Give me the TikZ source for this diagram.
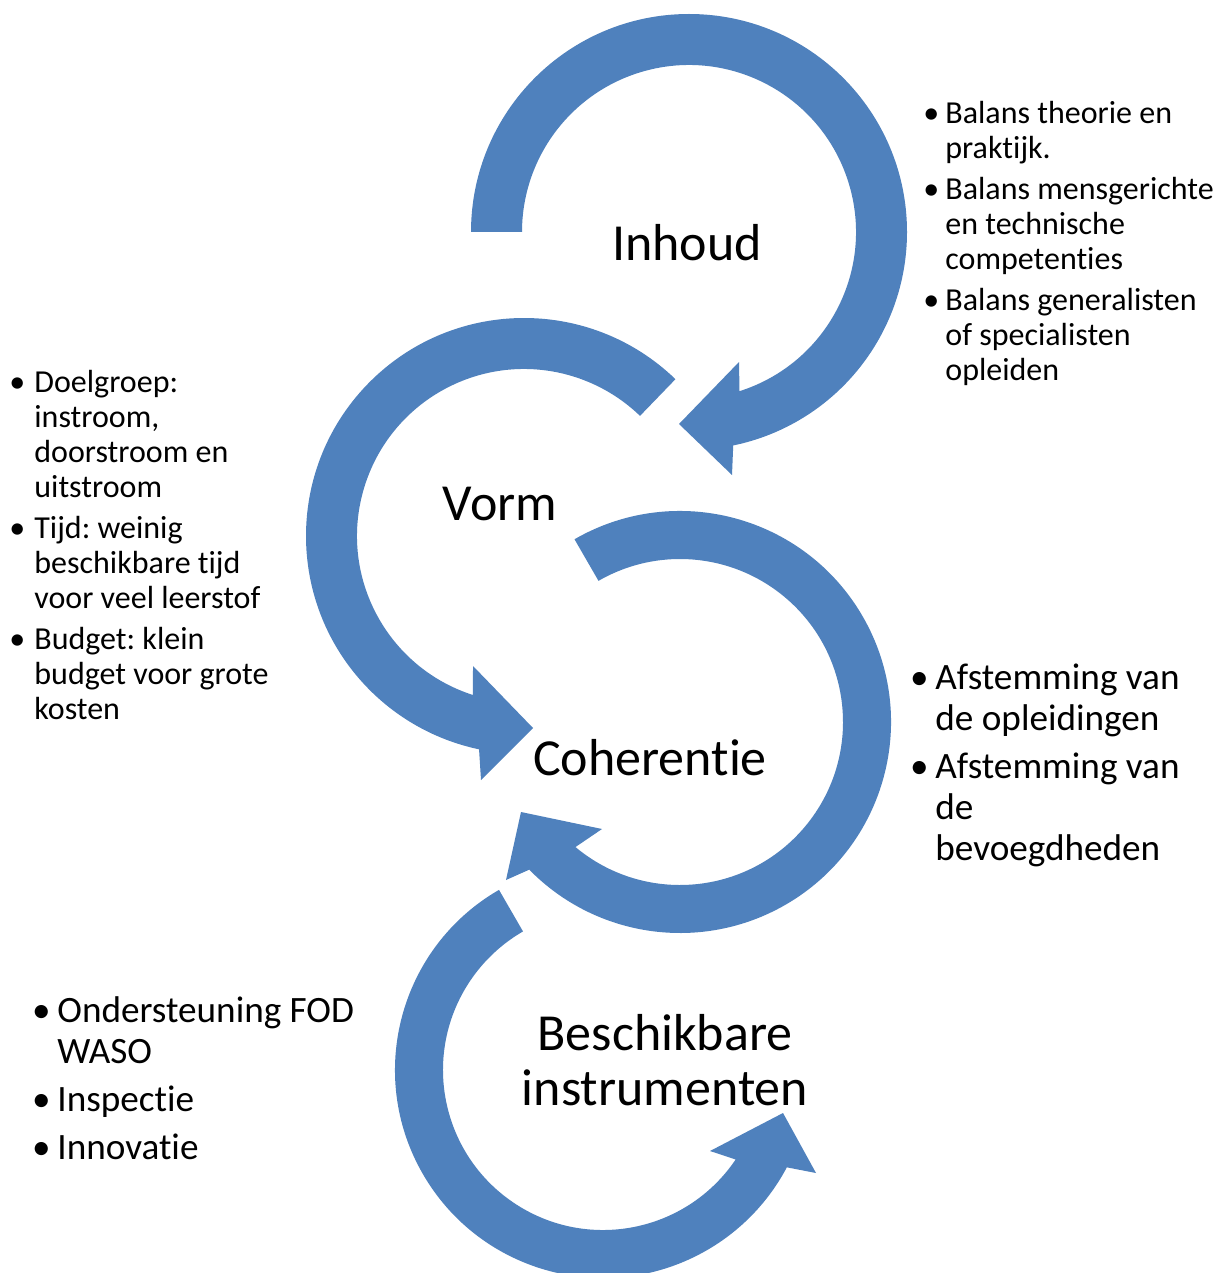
\documentclass[tikz,border=0pt]{standalone}
\usepackage{fontspec}
\setmainfont{Carlito}[Ligatures=NoCommon]
\usetikzlibrary{calc}
\definecolor{smartblue}{RGB}{79,129,189}
\newcommand{\opsom}[1]{\makebox[#1][l]{\makebox[0pt]{\textbullet}}}
\frenchspacing
\tikzset{
  pijl/.style={fill=smartblue},
  hoofdlabel/.style={font=\fontsize{26}{27.5}\selectfont, inner sep=0pt},
  kleinlijst/.style={font=\fontsize{16}{17.5}\selectfont, align=left, inner sep=0pt, anchor=north west},
  grootlijst/.style={font=\fontsize{18.6}{20.6}\selectfont, align=left, inner sep=0pt, anchor=north west},
}
\begin{document}
\begin{tikzpicture}[x=0.5pt, y=-0.5pt]
\fill[white] (0,0) rectangle (1224,1273);
\useasboundingbox (0,0) rectangle (1224,1273);
% middelpunten van de pijlen
\coordinate (cInhoud) at (689,232);
\coordinate (cVorm) at (524,536);
\coordinate (cCoherentie) at (680,722);
\coordinate (cInstrumenten) at (603,1070);

% --- pijl 1: Inhoud (met de klok mee) ---
\fill[pijl] ($(cInhoud)+(180:218)$) arc[start angle=180, end angle=438.3, radius=218]
  -- (732,475) -- (679,424) -- (739,362)
  -- ($(cInhoud)+(72.4:167)$) arc[start angle=432.4, end angle=180, radius=167] -- cycle;

% --- pijl 2: Vorm (tegen de klok in) ---
\fill[pijl] ($(cVorm)+(314:218)$) arc[start angle=314, end angle=101.9, radius=218]
  -- (481,780) -- (533,728) -- (473,666)
  -- ($(cVorm)+(107.8:167)$) arc[start angle=107.8, end angle=314, radius=167] -- cycle;

% --- pijl 3: Coherentie (met de klok mee) ---
\fill[pijl] ($(cCoherentie)+(240:211)$) arc[start angle=240, end angle=495.6, radius=211]
  -- (506,880) -- (521,812) -- (602,829)
  -- ($(cCoherentie)+(129.9:163)$) arc[start angle=489.9, end angle=240, radius=163] -- cycle;

% --- pijl 4: Beschikbare instrumenten (tegen de klok in) ---
\fill[pijl] ($(cInstrumenten)+(240:208)$) arc[start angle=240, end angle=27.9, radius=208]
  -- (816,1173) -- (783,1113) -- (710,1151)
  -- ($(cInstrumenten)+(34:160)$) arc[start angle=34, end angle=240, radius=160] -- cycle;

% hoofdlabels
\node[hoofdlabel, anchor=base] (inhoud) at (687,260) {Inhoud};
\node[hoofdlabel, anchor=base] (vorm) at (500,520) {Vorm};
\node[hoofdlabel, anchor=base] (coherentie) at (650,775) {Coherentie};
\node[hoofdlabel, align=center, anchor=north] (instrumenten) at (665,1006)
  {\rule{0pt}{22pt}Beschikbare\\instrumenten};

% opsommingen
\node[kleinlijst] (lijstInhoud) at (931,95)
  {\opsom{7pt}\rule{0pt}{14pt}Balans theorie en\\ \hspace*{7pt}praktijk.\\[3pt]
   \opsom{7pt}Balans mensgerichte\\ \hspace*{7pt}en technische\\ \hspace*{7pt}competenties\\[3pt]
   \opsom{7pt}Balans generalisten\\ \hspace*{7pt}of specialisten\\ \hspace*{7pt}opleiden};
\node[kleinlijst] (lijstVorm) at (17,364)
  {\opsom{8.5pt}\rule{0pt}{14pt}Doelgroep:\\ \hspace*{8.5pt}instroom,\\ \hspace*{8.5pt}doorstroom en\\ \hspace*{8.5pt}uitstroom\\[3pt]
   \opsom{8.5pt}Tijd: weinig\\ \hspace*{8.5pt}beschikbare tijd\\ \hspace*{8.5pt}voor veel leerstof\\[3pt]
   \opsom{8.5pt}Budget: klein\\ \hspace*{8.5pt}budget voor grote\\ \hspace*{8.5pt}kosten};
\node[grootlijst] (lijstCoherentie) at (919,657)
  {\opsom{8pt}\rule{0pt}{16pt}Afstemming van\\ \hspace*{8pt}de opleidingen\\[3.25pt]
   \opsom{8pt}Afstemming van\\ \hspace*{8pt}de\\ \hspace*{8pt}bevoegdheden};
\node[grootlijst] (lijstInstrumenten) at (41,990)
  {\opsom{8pt}\rule{0pt}{16pt}Ondersteuning FOD\\ \hspace*{8pt}WASO\\[3.25pt]
   \opsom{8pt}Inspectie\\[3.25pt]
   \opsom{8pt}Innovatie};
\end{tikzpicture}
\end{document}
